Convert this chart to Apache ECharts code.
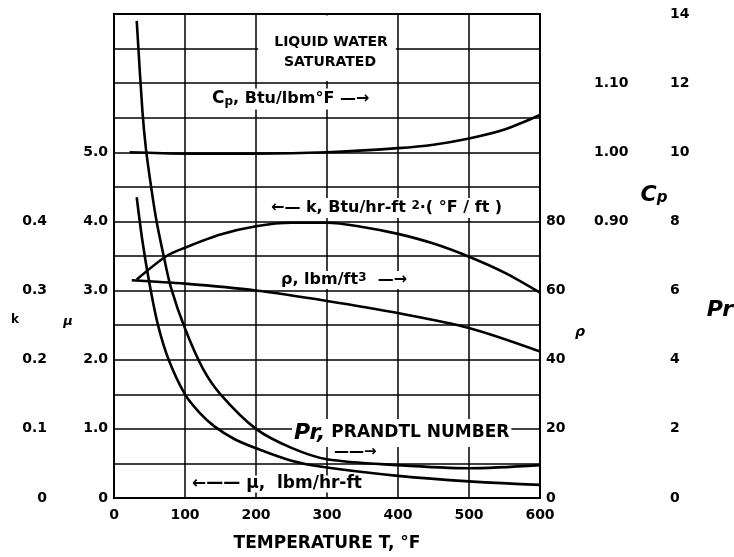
<!DOCTYPE html>
<html><head><meta charset="utf-8">
<script src="https://cdn.jsdelivr.net/npm/echarts@6.0.0/dist/echarts.min.js"></script>
<style>html,body{margin:0;padding:0;background:#fff}#c{width:734px;height:557px}</style>
</head><body><div id="c"></div>
<script>
// ---- tick labels ----
const tempTicks = [0, 100, 200, 300, 400, 500, 600];
const muTickLabels = [0, 1, 2, 3, 4, 5];
const kTickLabels = [0, 0.1, 0.2, 0.3, 0.4];
const rhoTickLabels = [0, 20, 40, 60, 80];
const cpTickLabels = [0.9, 1.0, 1.1];
const prTickLabels = [0, 2, 4, 6, 8, 10, 12, 14];

// ---- series (temperature °F, value) ----
const prT = [32, 40, 45, 53, 60, 70, 80, 100, 125, 150, 200, 250, 300, 400, 500, 600];
const prV = [13.8, 11.2, 10.1, 8.9, 8.0, 7.0, 6.1, 4.9, 3.75, 3.0, 2.0, 1.45, 1.12, 0.95, 0.86, 0.95];
const muT = [32, 40, 50, 62, 77, 100, 120, 141, 170, 200, 250, 300, 400, 500, 600];
const muV = [4.35, 3.72, 3.1, 2.5, 2.0, 1.5, 1.24, 1.04, 0.85, 0.72, 0.54, 0.44, 0.32, 0.24, 0.19];
const kT = [32, 74, 100, 150, 200, 250, 300, 350, 400, 450, 500, 550, 600];
const kV = [0.316, 0.35, 0.362, 0.381, 0.393, 0.398, 0.398, 0.392, 0.382, 0.368, 0.349, 0.326, 0.297];
const rhoT = [25, 100, 200, 300, 400, 500, 600];
const rhoV = [63.0, 62.0, 60.0, 57.0, 53.5, 49.2, 42.4];
const cpT = [22, 100, 200, 300, 400, 450, 500, 550, 600];
const cpV = [1.0, 0.998, 0.998, 1.0, 1.006, 1.011, 1.02, 1.033, 1.054];

const FONT = 'DejaVu Sans';
const BLACK = '#000';
const pair = (xs, ys) => xs.map((x, i) => [x, ys[i]]);
const inList = (list, v) => list.some(t => Math.abs(t - v) < 1e-6);

function curve(name, xs, ys, yAxisIndex, extra) {
  return Object.assign({
    type: 'line', name, data: pair(xs, ys), yAxisIndex,
    showSymbol: false, symbol: 'none', smooth: 0.3,
    lineStyle: { color: BLACK, width: 2.6 }, silent: true, z: 3
  }, extra || {});
}

const lblBase = { color: BLACK, fontFamily: FONT, fontWeight: 'bold', fontSize: 14 };
const hidden = { axisLine: { show: false }, axisTick: { show: false }, splitLine: { show: false } };

const chart = echarts.init(document.getElementById('c'));
chart.setOption({
  animation: false,
  backgroundColor: '#fff',
  grid: { left: 114, right: 194, top: 14, bottom: 53, show: true, borderColor: BLACK, borderWidth: 2 },
  xAxis: {
    type: 'value', min: 0, max: 600, interval: 100,
    axisLine: { show: false }, axisTick: { show: false },
    splitLine: { show: true, lineStyle: { color: BLACK, width: 1.5 } },
    axisLabel: Object.assign({}, lblBase, { margin: 10,
      formatter: v => inList(tempTicks, v) ? String(v) : '' }),
    name: 'TEMPERATURE T, °F', nameLocation: 'middle', nameGap: 37,
    nameTextStyle: { color: BLACK, fontFamily: FONT, fontWeight: 'bold', fontSize: 17 }
  },
  yAxis: [
    { // mu
      type: 'value', min: 0, max: 7, interval: 0.5, position: 'left',
      axisLine: { show: false }, axisTick: { show: false },
      splitLine: { show: true, lineStyle: { color: BLACK, width: 1.5 } },
      axisLabel: Object.assign({}, lblBase, { margin: 6, padding: [0, 0, 6, 0],
        formatter: v => inList(muTickLabels, v) ? (Math.abs(v) < 1e-9 ? '0' : v.toFixed(1)) : '' })
    },
    Object.assign({ // k
      type: 'value', min: 0, max: 0.7, interval: 0.1, position: 'left', offset: 60,
      axisLabel: Object.assign({}, lblBase, { margin: 7, padding: [0, 0, 8, 0],
        formatter: v => inList(kTickLabels, v) ? (Math.abs(v) < 1e-9 ? '0' : v.toFixed(1)) : '' })
    }, hidden),
    Object.assign({ // rho
      type: 'value', min: 0, max: 140, interval: 20, position: 'right',
      axisLabel: Object.assign({}, lblBase, { margin: 6, padding: [6, 0, 0, 0],
        formatter: v => inList(rhoTickLabels, v) ? String(Math.round(v)) : '' })
    }, hidden),
    Object.assign({ // cp
      type: 'value', min: 0.5, max: 1.2, interval: 0.1, position: 'right', offset: 48,
      axisLabel: Object.assign({}, lblBase, { margin: 6, padding: [10, 0, 0, 0],
        formatter: v => inList(cpTickLabels, v) ? v.toFixed(2) : '' })
    }, hidden),
    Object.assign({ // Pr
      type: 'value', min: 0, max: 14, interval: 2, position: 'right', offset: 124,
      axisLabel: Object.assign({}, lblBase, { margin: 6, padding: [14, 0, 0, 0],
        formatter: v => inList(prTickLabels, v) ? String(Math.round(v)) : '' })
    }, hidden)
  ],
  series: [
    curve('mu', muT, muV, 0, {
      markArea: { silent: true, itemStyle: { color: '#fff', opacity: 1 },
        data: [[{ xAxis: 203, yAxis: 6.03 }, { xAxis: 397, yAxis: 6.98 }]] }
    }),
    curve('k', kT, kV, 1),
    curve('rho', rhoT, rhoV, 2),
    curve('cp', cpT, cpV, 3),
    curve('Pr', prT, prV, 4)
  ],
  graphic: [
    { type: 'text', x: 331, y: 42, z: 10, style: { text: 'LIQUID WATER', fill: BLACK, font: 'bold 14px ' + FONT, align: 'center', verticalAlign: 'middle' } },
    { type: 'text', x: 330, y: 62, z: 10, style: { text: 'SATURATED', fill: BLACK, font: 'bold 14px ' + FONT, align: 'center', verticalAlign: 'middle' } },
    { type: 'text', x: 209, y: 99, z: 1, style: {
        text: '{c|C}{s|p}{t|, Btu/lbm°F —→}', align: 'left', verticalAlign: 'middle',
        backgroundColor: '#fff', padding: [2, 3],
        rich: { c: { fontFamily: FONT, fontSize: 17, fill: BLACK, fontWeight: 'bold' },
                s: { fontFamily: FONT, fontSize: 12, fill: BLACK, fontWeight: 'bold', verticalAlign: 'bottom' },
                t: { fontFamily: FONT, fontSize: 16, fontWeight: 'bold', fill: BLACK } } } },
    { type: 'text', x: 268, y: 208, z: 1, style: {
        text: '{t|←— k, Btu/hr-ft }{u|2}{t|·( °F / ft )}', align: 'left', verticalAlign: 'middle',
        backgroundColor: '#fff', padding: [2, 3],
        rich: { t: { fontFamily: FONT, fontSize: 16, fontWeight: 'bold', fill: BLACK },
                u: { fontFamily: FONT, fontSize: 12, fontWeight: 'bold', fill: BLACK, verticalAlign: 'top' } } } },
    { type: 'text', x: 278, y: 280, z: 1, style: {
        text: '{t|ρ, lbm/ft}{u|3}{t|  —→}', align: 'left', verticalAlign: 'middle',
        backgroundColor: '#fff', padding: [1, 3],
        rich: { t: { fontFamily: FONT, fontSize: 16, fontWeight: 'bold', fill: BLACK },
                u: { fontFamily: FONT, fontSize: 12, fontWeight: 'bold', fill: BLACK, verticalAlign: 'top' } } } },
    { type: 'text', x: 292, y: 433, z: 1, style: {
        text: '{p|Pr,}{t| PRANDTL NUMBER}', align: 'left', verticalAlign: 'middle',
        backgroundColor: '#fff', padding: [3, 2],
        rich: { p: { fontFamily: FONT, fontSize: 22, fontStyle: 'italic', fontWeight: 'bold', fill: BLACK },
                t: { fontFamily: FONT, fontSize: 17, fontWeight: 'bold', fill: BLACK } } } },
    { type: 'text', x: 334, y: 452, z: 1, style: { text: '——→', fill: BLACK, font: 'bold 15px ' + FONT, align: 'left', verticalAlign: 'middle' } },
    { type: 'text', x: 189, y: 484, z: 1, style: {
        text: '←—— μ,  lbm/hr-ft', fill: BLACK, font: 'bold 17px ' + FONT, align: 'left', verticalAlign: 'middle',
        backgroundColor: '#fff', padding: [0, 3] } },
    { type: 'text', x: 15, y: 320, style: { text: 'k', fill: BLACK, font: 'bold 12px ' + FONT, align: 'center', verticalAlign: 'middle' } },
    { type: 'text', x: 68, y: 322, style: { text: 'μ', fill: BLACK, font: 'italic bold 13px ' + FONT, align: 'center', verticalAlign: 'middle' } },
    { type: 'text', x: 580, y: 332, style: { text: 'ρ', fill: BLACK, font: 'italic bold 14px ' + FONT, align: 'center', verticalAlign: 'middle' } },
    { type: 'text', x: 654, y: 195, style: {
        text: '{c|C}{s|p}', align: 'center', verticalAlign: 'middle',
        rich: { c: { fontFamily: FONT, fontSize: 22, fontStyle: 'italic', fontWeight: 'bold', fill: BLACK },
                s: { fontFamily: FONT, fontSize: 15, fontStyle: 'italic', fontWeight: 'bold', fill: BLACK, verticalAlign: 'bottom' } } } },
    { type: 'text', x: 720, y: 310, style: { text: 'Pr', fill: BLACK, font: 'italic bold 22px ' + FONT, align: 'center', verticalAlign: 'middle' } }
  ]
});
</script>
</body></html>
